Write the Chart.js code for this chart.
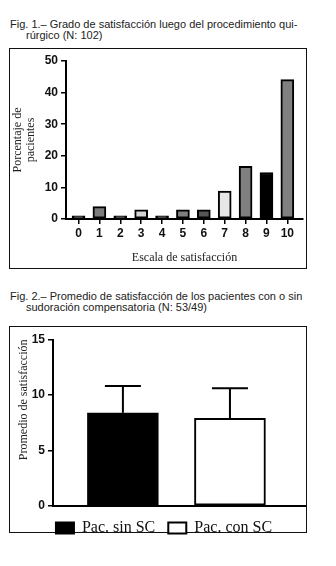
<!DOCTYPE html>
<html>
<head>
<meta charset="utf-8">
<script src="https://cdn.jsdelivr.net/npm/chart.js@4"></script>
<style>
  html, body { margin: 0; padding: 0; background: #fff; }
  body { position: relative; width: 336px; height: 566px; overflow: hidden; }
  .caption {
    position: absolute;
    font-family: "Liberation Sans", Arial, sans-serif;
    font-size: 11px;
    color: #222;
    white-space: nowrap;
    line-height: 11px;
  }
  .frame {
    position: absolute;
    left: 9px;
    width: 298px;
    box-sizing: border-box;
    border: 1px solid #111;
  }
  canvas { position: absolute; left: 0; }
</style>
</head>
<body>

<div class="caption" style="left:10px; top:19px;">Fig. 1.– Grado de satisfacción luego del procedimiento qui-</div>
<div class="caption" style="left:26px; top:30px;">rúrgico (N: 102)</div>
<div class="frame" style="top:48px; height:221px;"></div>
<canvas id="scoreChart" width="336" height="220" style="top:49px;"></canvas>

<div class="caption" style="left:10px; top:291px;">Fig. 2.– Promedio de satisfacción de los pacientes con o sin</div>
<div class="caption" style="left:26px; top:302px;">sudoración compensatoria (N: 53/49)</div>
<div class="frame" style="top:326px; height:207px;"></div>
<canvas id="groupChart" width="336" height="219" style="top:327px;"></canvas>

<script>
// Fig. 1 – share of patients per satisfaction score (N = 102)
const scoreLabels = ["0", "1", "2", "3", "4", "5", "6", "7", "8", "9", "10"];
const patientPct = [0.98, 3.92, 0.98, 2.94, 0.98, 2.94, 2.94, 8.82, 16.67, 14.71, 44.12];
const pctTicks = [0, 10, 20, 30, 40, 50];

// Fig. 2 – mean satisfaction with / without compensatory sweating
const groupNames = ["Pac. sin SC", "Pac. con SC"];
const groupMeans = [8.4, 7.9];
const groupSd = [2.4, 2.7];
const meanTicks = [0, 5, 10, 15];

const scoreFills = ["#111111", "#7c7c7c", "#111111", "#d4d4d4", "#111111", "#808080",
                    "#555555", "#e6e6e6", "#808080", "#000000", "#808080"];
const groupFills = ["#000000", "#ffffff"];

Chart.defaults.font.family = "'Liberation Sans', Arial, sans-serif";
Chart.defaults.color = "#111";
Chart.defaults.animation = false;

const tickFont = { size: 12, weight: "bold" };
const serifTitle = { family: "'Liberation Serif', 'Times New Roman', serif", size: 12, lineHeight: "13px" };

// y axis: fixed width, ticks taken from an array
function valueAxis(ticks, width, title) {
  return {
    min: ticks[0],
    max: ticks[ticks.length - 1],
    afterFit(scale) { scale.width = width; },
    afterBuildTicks(scale) { scale.ticks = ticks.map(v => ({ value: v })); },
    ticks: { font: tickFont, color: "#111", padding: 3 },
    grid: { drawOnChartArea: false, drawTicks: true, tickLength: 5, color: "#000", lineWidth: 1.5 },
    border: { color: "#000", width: 2 },
    title: title
  };
}

// =========================
// Score distribution bars
// =========================

new Chart(document.getElementById("scoreChart"), {
  type: "bar",
  data: {
    labels: scoreLabels,
    datasets: [{
      data: patientPct,
      backgroundColor: scoreFills,
      borderColor: "#000",
      borderWidth: 2,
      borderSkipped: false,
      barThickness: 13
    }]
  },
  options: {
    responsive: false,
    layout: { padding: { top: 12, left: 0, right: 33, bottom: 0 } },
    plugins: { legend: { display: false }, tooltip: { enabled: false } },
    scales: {
      x: {
        type: "linear",
        offset: false,
        min: -0.6,
        max: 10.75,
        afterFit(scale) { scale.height = 50; },
        afterBuildTicks(scale) { scale.ticks = scoreLabels.map(v => ({ value: +v })); },
        ticks: { font: tickFont, color: "#111", padding: 2 },
        grid: { offset: false, drawOnChartArea: false, drawTicks: true, tickLength: 5, color: "#000", lineWidth: 1.5 },
        border: { color: "#000", width: 2 },
        title: {
          display: true,
          text: "Escala de satisfacción",
          font: serifTitle,
          color: "#222",
          padding: { top: 0, bottom: 4.5 }
        }
      },
      y: valueAxis(pctTicks, 66, {
        display: true,
        text: ["Porcentaje de", "pacientes"],
        font: serifTitle,
        color: "#222",
        padding: { top: 11.5, bottom: 0 }
      })
    }
  }
});

// =========================
// Group means with SD
// =========================

// one-sided SD whiskers above each bar
const sdWhiskers = {
  id: "sdWhiskers",
  afterDatasetsDraw(chart) {
    const { ctx, scales: { x, y } } = chart;
    ctx.save();
    ctx.strokeStyle = "#000";
    ctx.lineWidth = 2;
    groupMeans.forEach((mean, i) => {
      const cx = x.getPixelForValue(i);
      const base = y.getPixelForValue(mean);
      const top = y.getPixelForValue(mean + groupSd[i]);
      ctx.beginPath();
      ctx.moveTo(cx, base);
      ctx.lineTo(cx, top);
      ctx.moveTo(cx - 18, top);
      ctx.lineTo(cx + 18, top);
      ctx.stroke();
    });
    ctx.restore();
  }
};

new Chart(document.getElementById("groupChart"), {
  type: "bar",
  data: {
    datasets: groupNames.map((name, i) => ({
      label: name,
      data: [{ x: i, y: groupMeans[i] }],
      backgroundColor: groupFills[i],
      borderColor: "#000",
      borderWidth: 2,
      borderSkipped: false,
      barThickness: 71,
      grouped: false
    }))
  },
  plugins: [sdWhiskers],
  options: {
    responsive: false,
    layout: { padding: { top: 12.5, left: 23, right: 31, bottom: 0 } },
    plugins: {
      tooltip: { enabled: false },
      legend: {
        position: "bottom",
        labels: {
          boxWidth: 18,
          boxHeight: 11,
          padding: 13,
          color: "#111",
          font: { family: "'Liberation Serif', 'Times New Roman', serif", size: 16 }
        }
      }
    },
    scales: {
      x: {
        type: "linear",
        offset: false,
        min: -0.653,
        max: 1.701,
        afterFit(scale) { scale.height = 1; },
        ticks: { display: false },
        grid: { display: false, offset: false },
        border: { color: "#000", width: 2 }
      },
      y: valueAxis(meanTicks, 30, {
        display: true,
        text: "Promedio de satisfacción",
        align: "end",
        font: serifTitle,
        color: "#222",
        padding: { top: -5.2, bottom: 0 }
      })
    }
  }
});
</script>
</body>
</html>
